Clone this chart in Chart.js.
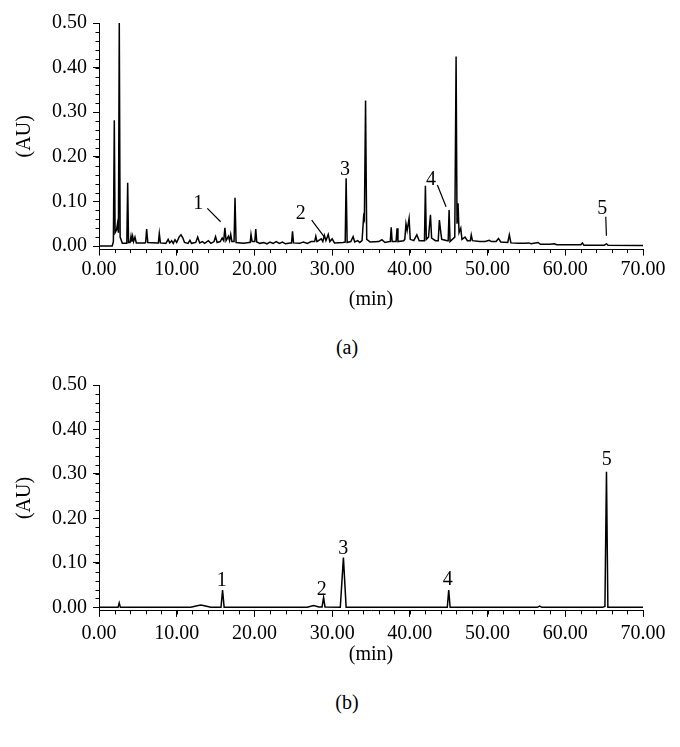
<!DOCTYPE html>
<html>
<head>
<meta charset="utf-8">
<script src="https://cdn.jsdelivr.net/npm/chart.js@4.4.1/dist/chart.umd.min.js"></script>
<style>
  body { margin: 0; background: #fff; }
  #wrap { position: relative; width: 680px; height: 747px; font-family: 'Liberation Serif', serif; color: #000; }
  canvas { position: absolute; left: 0; }
  #chartA { top: 0; }
  #chartB { top: 360px; }
  .panel { position: absolute; width: 60px; margin-left: -30px; text-align: center; font-size: 20px; line-height: 20px; }
</style>
</head>
<body>
<div id="wrap">
  <canvas id="chartA" width="680" height="320"></canvas>
  <div class="panel" style="left:347px; top:337px;">(a)</div>
  <canvas id="chartB" width="680" height="310"></canvas>
  <div class="panel" style="left:347px; top:692px;">(b)</div>
</div>
<script>
// ---- data ----
const xTicks = [0, 10, 20, 30, 40, 50, 60, 70];
const yTicks = [0, 0.1, 0.2, 0.3, 0.4, 0.5];

// (a) sample chromatogram: retention time (min) / absorbance (AU)
const timeA = [
  0, 1.70, 1.85, 1.97, 2.07, 2.25, 2.38, 2.50, 2.61, 2.72, 3.00, 3.50, 3.58, 3.69, 3.80,
  4.00, 4.12, 4.22, 4.33, 4.45, 4.63, 4.80, 5.90, 6.00, 6.13, 6.28, 7.50, 7.64, 7.76, 7.90,
  8.60, 8.90, 9.10, 9.35, 9.55, 9.78, 10.00, 10.30, 10.55, 10.80, 11.00, 11.45, 11.70, 11.90, 12.45,
  12.70, 12.95, 13.30, 13.60, 14.07, 14.40, 14.80, 15.00, 15.20, 15.60, 15.85, 16.05, 16.20, 16.35, 16.65,
  16.80, 16.95, 17.10, 17.38, 17.50, 17.64, 18.60, 19.30, 19.45, 19.56, 19.70, 20.05, 20.17, 20.30, 20.70,
  21.20, 21.60, 22.00, 22.40, 22.80, 23.20, 23.60, 24.00, 24.60, 24.78, 24.90, 25.03, 25.80, 26.30, 26.80,
  27.30, 27.75, 27.90, 28.05, 28.60, 28.80, 29.00, 29.20, 29.50, 29.70, 30.00, 30.30, 31.40, 31.68, 31.80,
  31.93, 32.40, 32.70, 32.90, 33.30, 33.55, 33.85, 34.05, 34.15, 34.30, 34.45, 34.90, 36.00, 36.40, 36.80,
  37.40, 37.48, 37.60, 37.72, 38.10, 38.23, 38.35, 38.47, 39.20, 39.35, 39.50, 39.65, 39.90, 40.05, 40.50,
  40.90, 41.20, 41.80, 41.88, 42.00, 42.12, 42.40, 42.65, 42.80, 43.30, 43.65, 43.80, 43.95, 44.10, 44.80,
  44.93, 45.05, 45.17, 45.78, 45.95, 46.07, 46.20, 46.33, 46.55, 46.70, 47.10, 47.40, 47.78, 47.90, 48.05,
  49.00, 49.70, 50.20, 50.50, 51.10, 51.40, 51.70, 52.60, 52.80, 53.00, 54.00, 54.80, 55.30, 55.60, 56.50,
  56.80, 58.00, 58.60, 58.90, 60.00, 62.00, 62.20, 62.40, 65.00, 65.30, 65.50, 70.00
];
const absA = [
  0.000, 0.000, 0.010, 0.282, 0.030, 0.036, 0.050, 0.030, 0.500, 0.020, 0.006, 0.006, 0.008, 0.142, 0.008,
  0.008, 0.022, 0.010, 0.022, 0.010, 0.020, 0.007, 0.007, 0.008, 0.038, 0.008, 0.007, 0.007, 0.028, 0.007,
  0.006, 0.015, 0.007, 0.012, 0.006, 0.014, 0.008, 0.020, 0.025, 0.018, 0.008, 0.006, 0.013, 0.006, 0.008,
  0.020, 0.007, 0.010, 0.006, 0.012, 0.006, 0.010, 0.021, 0.008, 0.010, 0.018, 0.012, 0.041, 0.012, 0.022,
  0.012, 0.026, 0.010, 0.010, 0.108, 0.008, 0.006, 0.008, 0.008, 0.026, 0.010, 0.010, 0.038, 0.009, 0.006,
  0.008, 0.005, 0.009, 0.006, 0.010, 0.006, 0.009, 0.005, 0.007, 0.007, 0.033, 0.007, 0.006, 0.009, 0.006,
  0.010, 0.010, 0.022, 0.010, 0.016, 0.010, 0.024, 0.012, 0.026, 0.010, 0.016, 0.007, 0.008, 0.009, 0.152,
  0.008, 0.010, 0.021, 0.009, 0.012, 0.008, 0.012, 0.066, 0.060, 0.326, 0.015, 0.009, 0.010, 0.014, 0.008,
  0.010, 0.010, 0.042, 0.010, 0.010, 0.010, 0.040, 0.010, 0.012, 0.015, 0.050, 0.035, 0.062, 0.015, 0.012,
  0.025, 0.012, 0.012, 0.012, 0.135, 0.015, 0.020, 0.070, 0.018, 0.012, 0.012, 0.058, 0.035, 0.015, 0.012,
  0.012, 0.081, 0.010, 0.020, 0.425, 0.050, 0.096, 0.030, 0.040, 0.015, 0.020, 0.012, 0.012, 0.025, 0.012,
  0.010, 0.010, 0.013, 0.010, 0.010, 0.017, 0.009, 0.008, 0.025, 0.007, 0.006, 0.006, 0.007, 0.005, 0.008,
  0.004, 0.004, 0.005, 0.003, 0.003, 0.003, 0.007, 0.002, 0.002, 0.005, 0.002, 0.001
];

// (b) standard mixture
const timeB = [
  0, 2.45, 2.60, 2.75, 11.80, 12.50, 13.10, 13.70, 14.40, 15.70, 15.90, 16.10, 26.80, 27.60, 28.30,
  28.70, 28.90, 29.08, 31.05, 31.45, 31.80, 44.82, 45.00, 45.18, 56.40, 56.70, 57.00, 64.80, 65.10, 65.30,
  65.48, 70.00
];
const absB = [
  0.000, 0.000, 0.010, 0.000, 0.000, 0.003, 0.005, 0.003, 0.000, 0.000, 0.039, 0.000, 0.000, 0.004, 0.001,
  0.001, 0.022, 0.001, 0.000, 0.112, 0.000, 0.000, 0.039, 0.000, 0.000, 0.003, 0.000, 0.000, 0.002, 0.305,
  0.000, 0.000
];

// peak numbers (text position in data units) and leader lines [t1, v1, t2, v2]
const peakNames = ['1', '2', '3', '4', '5'];
const labelTimeA = [12.78, 25.96, 31.66, 42.73, 64.77];
const labelAbsA = [0.099, 0.077, 0.174, 0.152, 0.088];
const leadersA = [
  [13.94, 0.0845, 15.65, 0.0545],
  [27.37, 0.0583, 28.96, 0.0209],
  [43.54, 0.137, 44.66, 0.088],
  [65.21, 0.0657, 65.29, 0.023]
];
const labelTimeB = [15.79, 28.66, 31.44, 44.88, 65.34];
const labelAbsB = [0.063, 0.043, 0.136, 0.065, 0.335];
const leadersB = [];

Chart.defaults.font.family = "'Liberation Serif', 'Times New Roman', serif";
Chart.defaults.font.size = 20;
Chart.defaults.color = '#000';

// minor ticks + peak numbers, drawn through the chart's scales
function decorations(labelTime, labelAbs, leaders) {
  return {
    id: 'decorations',
    afterDraw(chart) {
      const { ctx, scales: { x, y }, chartArea } = chart;
      ctx.save();
      ctx.strokeStyle = '#000';
      ctx.lineWidth = 1;
      ctx.beginPath();
      for (let t = 0; t <= 70; t += 2) {
        const px = Math.round(x.getPixelForValue(t)) + 0.5;
        ctx.moveTo(px, chartArea.bottom);
        ctx.lineTo(px, chartArea.bottom + 3.5);
      }
      for (let k = 0; k <= 25; k++) {
        const py = Math.round(y.getPixelForValue(k * 0.02)) + 0.5;
        ctx.moveTo(chartArea.left - 3.5, py);
        ctx.lineTo(chartArea.left, py);
      }
      ctx.stroke();

      ctx.lineWidth = 1.2;
      ctx.beginPath();
      leaders.forEach(l => {
        ctx.moveTo(x.getPixelForValue(l[0]), y.getPixelForValue(l[1]));
        ctx.lineTo(x.getPixelForValue(l[2]), y.getPixelForValue(l[3]));
      });
      ctx.stroke();

      ctx.fillStyle = '#000';
      ctx.font = "20px 'Liberation Serif', serif";
      ctx.textAlign = 'center';
      ctx.textBaseline = 'alphabetic';
      peakNames.forEach((n, i) => {
        ctx.fillText(n, x.getPixelForValue(labelTime[i]), y.getPixelForValue(labelAbs[i]) + 7);
      });
      ctx.restore();
    }
  };
}

function drawChart(id, times, values, labelTime, labelAbs, leaders, layout) {
  new Chart(document.getElementById(id), {
    type: 'line',
    data: {
      datasets: [{
        data: times.map((t, i) => ({ x: t, y: values[i] })),
        borderColor: '#000',
        borderWidth: 1.5,
        pointRadius: 0,
        tension: 0,
        fill: false
      }]
    },
    options: {
      responsive: false,
      animation: false,
      layout: { padding: { top: layout.top, right: 37, bottom: 0, left: 0 } },
      plugins: { legend: { display: false }, tooltip: { enabled: false } },
      scales: {
        x: {
          type: 'linear',
          min: 0,
          max: 70,
          afterBuildTicks: s => { s.ticks = xTicks.map(v => ({ value: v })); },
          afterFit: s => { s.height = layout.xHeight; },
          ticks: { padding: layout.tickPad, maxRotation: 0, autoSkip: false, callback: v => v.toFixed(2) },
          grid: { drawOnChartArea: false, drawTicks: true, tickLength: 6, tickColor: '#000', tickWidth: 1 },
          border: { display: true, color: '#000', width: 1 },
          title: { display: true, text: '(min)', padding: { top: 0, bottom: layout.titlePad } }
        },
        y: {
          type: 'linear',
          min: -0.008,
          max: 0.5,
          afterBuildTicks: s => { s.ticks = yTicks.map(v => ({ value: v })); },
          afterFit: s => { s.width = 99; },
          ticks: { padding: 6, autoSkip: false, callback: v => v.toFixed(2) },
          grid: { drawOnChartArea: false, drawTicks: true, tickLength: 6, tickColor: '#000', tickWidth: 1 },
          border: { display: true, color: '#000', width: 1 },
          title: { display: true, text: '(AU)', padding: { top: 13, bottom: 0 } }
        }
      }
    },
    plugins: [decorations(labelTime, labelAbs, leaders)]
  });
}

drawChart('chartA', timeA, absA, labelTimeA, labelAbsA, leadersA,
  { top: 23, xHeight: 70.4, tickPad: 2, titlePad: 8 });
drawChart('chartB', timeB, absB, labelTimeB, labelAbsB, leadersB,
  { top: 25, xHeight: 59.1, tickPad: 5, titlePad: 3 });
</script>
</body>
</html>
